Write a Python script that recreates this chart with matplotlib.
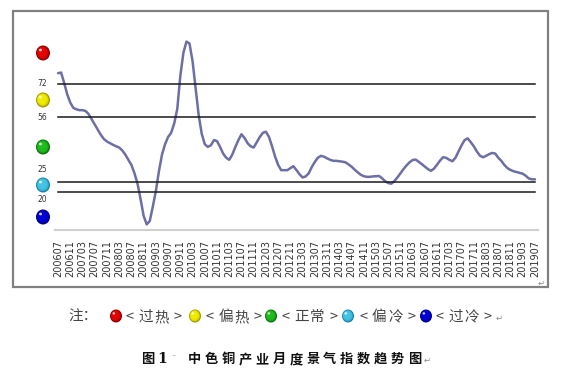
import matplotlib.pyplot as plt
from matplotlib.patches import Ellipse, Rectangle

plt.rcParams['font.family'] = ['Noto Sans CJK SC', 'DejaVu Sans']

# monthly index values, 200607 .. 201907
index_values = [
    77.2, 77.5, 72.5, 67.0, 63.0, 60.5, 59.8, 59.4, 59.4, 59.0, 57.5, 55.0,
    52.5, 50.0, 47.5, 45.5, 44.3, 43.5, 42.7, 42.0, 41.4, 40.0, 38.0, 35.5,
    33.0, 29.0, 24.0, 16.5, 8.5, 4.4, 6.0, 13.0, 20.5, 30.0, 38.0, 43.0,
    46.5, 48.5, 53.0, 60.0, 76.0, 87.0, 92.4, 91.5, 83.0, 70.0, 57.0, 48.0,
    43.0, 41.7, 42.5, 45.0, 44.5, 41.7, 38.5, 36.5, 35.5, 38.0, 41.7, 45.0,
    47.8, 46.0, 43.5, 42.0, 41.4, 44.0, 46.5, 48.5, 49.0, 46.5, 42.0, 37.0,
    33.0, 30.5, 30.5, 30.5, 31.5, 32.4, 30.5, 28.5, 27.0, 27.5, 29.0, 32.0,
    34.5, 36.5, 37.4, 37.0, 36.2, 35.5, 35.0, 35.0, 34.8, 34.6, 34.3, 33.3,
    32.2, 30.8, 29.5, 28.3, 27.6, 27.3, 27.3, 27.5, 27.6, 27.7, 26.6, 25.2,
    24.3, 24.0, 25.2, 27.0, 29.0, 31.0, 32.8, 34.3, 35.4, 35.6, 34.5, 33.4,
    32.2, 31.0, 30.2, 31.3, 33.2, 35.2, 36.8, 36.4, 35.5, 34.8, 36.5, 39.5,
    42.5, 45.0, 45.8, 44.0, 42.0, 39.5, 37.5, 36.7, 37.4, 38.2, 38.8, 38.5,
    36.5, 35.0, 33.0, 31.5, 30.6, 30.0, 29.6, 29.2, 28.8, 27.8, 26.5, 26.1,
    26.1,
]

tick_labels = [
    '200607', '200611', '200703', '200707', '200711', '200803', '200807',
    '200811', '200903', '200907', '200911', '201003', '201007', '201011',
    '201103', '201107', '201111', '201203', '201207', '201211', '201303',
    '201307', '201311', '201403', '201407', '201411', '201503', '201507',
    '201511', '201603', '201607', '201611', '201703', '201707', '201711',
    '201803', '201807', '201811', '201903', '201907',
]

thresholds = [72, 56, 25, 20]
threshold_labels = ['72', '56', '25', '20']

zone_names = ['<过热>', '<偏热>', '<正常>', '<偏冷>', '<过冷>']
zone_colors = ['#e80000', '#f2ee00', '#1fbf1f', '#45c6e6', '#0000dd']
zone_dark = ['#8a0000', '#a09600', '#0a6e0a', '#1a7fa6', '#00007a']

caption = '中色铜产业月度景气指数趋势图'

fig = plt.figure(figsize=(5.63, 3.85), dpi=100)

# main chart area (pixel box 55..538 x 25..230)
ax = fig.add_axes([55 / 563, 155 / 385, 483 / 563, 205 / 385])
x = list(range(len(index_values)))
ax.plot(x, index_values, color='#6e6ea6', lw=1.8, solid_capstyle='round')
for t in thresholds:
    ax.plot([0, len(index_values) - 1], [t, t], color='#1a1a1a', lw=1.1)
ax.set_xlim(-1, len(index_values))
ax.set_ylim(1.7, 100.4)
ax.set_xticks(x[::4])
ax.set_xticklabels(tick_labels, rotation=90, fontsize=7, color='#333333',
                   family='DejaVu Sans')
ax.tick_params(axis='x', length=0, pad=7)
ax.set_yticks([])
for s in ax.spines.values():
    s.set_visible(False)
ax.spines['bottom'].set_visible(True)
ax.spines['bottom'].set_color('#cfcfcf')
ax.spines['bottom'].set_linewidth(1.5)
ax.patch.set_alpha(0)

# overlay in pixel coordinates for the decorations
ov = fig.add_axes([0, 0, 1, 1], zorder=5)
ov.set_xlim(0, 563)
ov.set_ylim(385, 0)
ov.axis('off')
ov.patch.set_alpha(0)


def ball(cx, cy, w, h, col, dark):
    ov.add_patch(Ellipse((cx, cy), w, h, color=dark, lw=0))
    steps = 6
    for k in range(steps):
        f = (k + 1) / steps
        ov.add_patch(Ellipse((cx - 1.2 * f, cy - 1.2 * f), w * (1 - 0.55 * f) * 0.95,
                             h * (1 - 0.55 * f) * 0.95, color=col, lw=0,
                             alpha=0.55))
    ov.add_patch(Ellipse((cx - w * 0.18, cy - h * 0.2), w * 0.22, h * 0.18,
                         color='white', lw=0, alpha=0.8))


def spread(text, x0, x1, y, **kw):
    # one glyph per slot, all on the same baseline
    n = len(text)
    for k, ch in enumerate(text):
        ov.text(x0 + (x1 - x0) * (k + 0.5) / n, y, ch, ha='center', va='baseline', **kw)


ov.add_patch(Rectangle((13, 11), 535, 276, fill=False, ec='#808080', lw=1.6))

ball_y = [53, 100, 147, 185, 217]
for i in range(5):
    ball(43, ball_y[i], 14, 15, zone_colors[i], zone_dark[i])

label_y = [83, 118, 169, 199]
for lab, yy in zip(threshold_labels, label_y):
    ov.text(42, yy, lab, ha='center', va='center', fontsize=5.5, color='#333333',
            family='DejaVu Sans')

ov.text(541, 283, '↵', ha='center', va='center', fontsize=6, color='#888888',
        family='DejaVu Sans')

# legend line
ov.text(83, 321, '注：', ha='center', va='baseline', fontsize=10.5, color='#444444')
legend_ball_x = [116, 195, 271, 348, 426]
legend_text_span = [(122, 186), (202, 265), (278, 341), (355, 420), (432, 495)]
for i in range(5):
    ball(legend_ball_x[i], 316, 12, 13, zone_colors[i], zone_dark[i])
    spread(zone_names[i], legend_text_span[i][0], legend_text_span[i][1], 321,
           fontsize=10.5, color='#444444')
ov.text(499, 318, '↵', ha='center', va='center', fontsize=6, color='#888888',
        family='DejaVu Sans')

# caption
ov.text(148, 363, '图', ha='center', va='baseline', fontsize=9.5, weight='bold',
        color='#111111')
ov.text(162, 363, '1', ha='center', va='baseline', fontsize=10, weight='bold',
        color='#111111', family='DejaVu Serif')
ov.text(174, 357, '··', ha='center', va='center', fontsize=6, color='#777777',
        family='DejaVu Sans')
spread(caption, 186, 423, 363, fontsize=9.5, weight='bold', color='#111111')
ov.text(427, 360, '↵', ha='center', va='center', fontsize=6, color='#888888',
        family='DejaVu Sans')

fig.savefig('out.png', dpi=100, facecolor='white')
